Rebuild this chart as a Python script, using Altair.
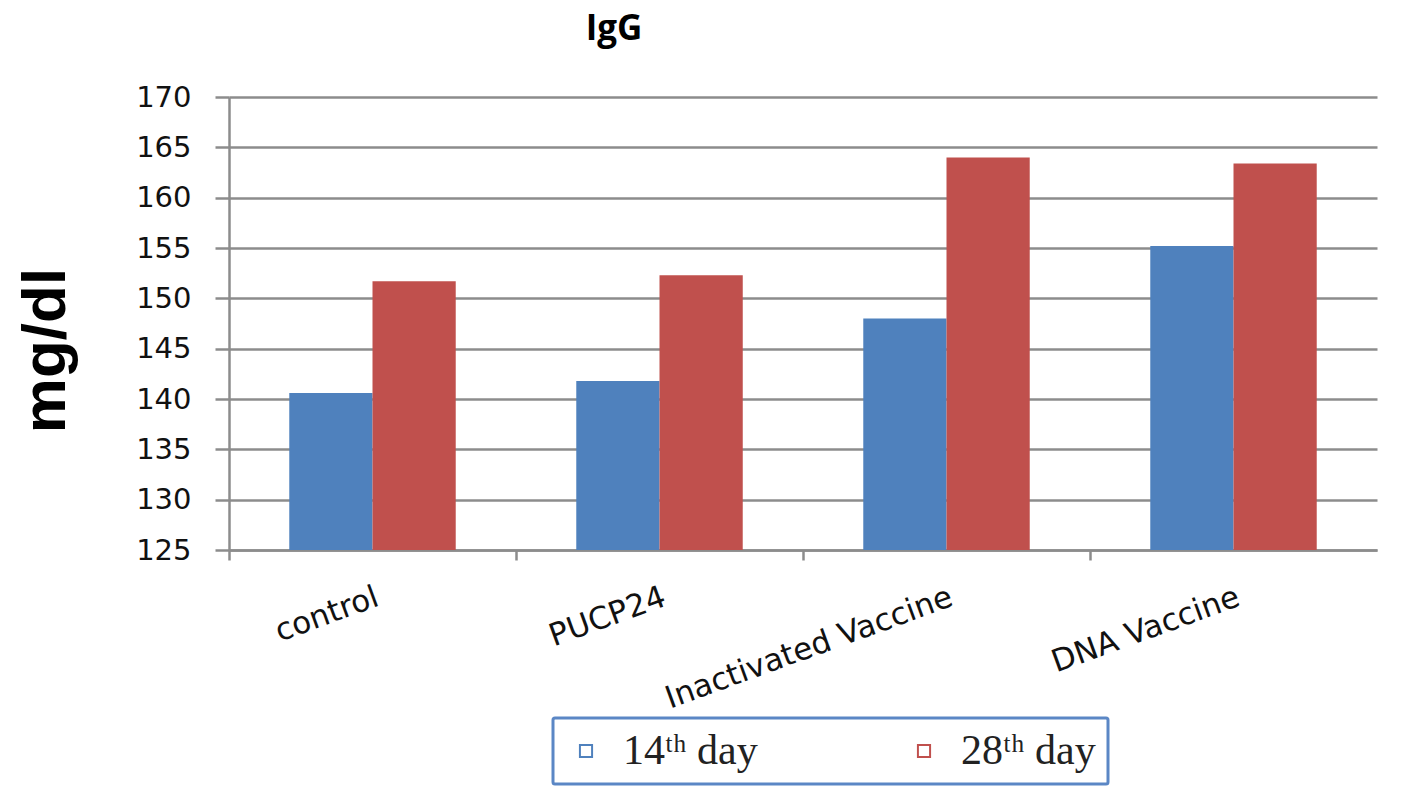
import altair as alt
import pandas as pd

categories = ["control", "PUCP24", "Inactivated Vaccine", "DNA Vaccine"]
series = ["14ᵗʰ day", "28ᵗʰ day"]
day14 = [140.6, 141.8, 148.0, 155.2]
day28 = [151.7, 152.3, 164.0, 163.4]
y_ticks = [125, 130, 135, 140, 145, 150, 155, 160, 165, 170]
colors = ["#4F81BD", "#C0504D"]

rows = []
for c, a, b in zip(categories, day14, day28):
    rows.append({"group": c, "series": series[0], "value": a})
    rows.append({"group": c, "series": series[1], "value": b})
df = pd.DataFrame(rows)

W, H = 1148, 453
grid = "#8c8c8c"
ring = "M-1,-1H1V1H-1Z M-0.72,-0.72V0.72H0.72V-0.72Z"

chart = alt.Chart(df).mark_bar().encode(
    x=alt.X("group:N", sort=categories, title=None,
            scale=alt.Scale(paddingInner=0.42, paddingOuter=0.21),
            axis=alt.Axis(bandPosition=-0.362, labelAngle=-20, labelLimit=500,
                          labelAlign="right", labelBaseline="top", labelPadding=22,
                          labelFont="DejaVu Sans", labelFontSize=31, labelColor="#111",
                          tickSize=10, tickWidth=2.5, tickColor=grid,
                          domainColor=grid, domainWidth=2.5, grid=False)),
    xOffset=alt.XOffset("series:N", sort=series, scale=alt.Scale(paddingInner=0, paddingOuter=0)),
    y=alt.Y("value:Q", title="mg/dl",
            scale=alt.Scale(domain=[125, 170], zero=False, nice=False),
            axis=alt.Axis(values=y_ticks, labelFont="DejaVu Sans", labelFontSize=29,
                          labelColor="#111", labelPadding=24,
                          tickSize=14, tickWidth=2.5, tickColor=grid,
                          domainColor=grid, domainWidth=2.5,
                          grid=True, gridColor=grid, gridWidth=2.5,
                          titleFont="Liberation Sans", titleFontSize=62, titleFontWeight="bold",
                          titleColor="#000", titleX=-184, titleY=253, titleAngle=-90,
                          titleAlign="center", titleBaseline="middle")),
    y2=alt.Y2(datum=125),
    color=alt.Color("series:N", sort=series,
                    scale=alt.Scale(domain=series, range=colors),
                    legend=alt.Legend(title=None, orient="none", legendX=324, legendY=621,
                                      direction="horizontal", symbolType=ring,
                                      symbolSize=200, symbolStrokeWidth=0,
                                      labelFont="Liberation Serif", labelFontSize=42,
                                      labelColor="#222", columnPadding=145,
                                      labelOffset=16, padding=12,
                                      strokeColor="#5B87C5")),
).properties(
    width=W, height=H,
    title=alt.Title("IgG", font="Open Sans", fontSize=35, fontWeight="bold",
                    color="#000", anchor="middle", dx=-189, offset=36),
    autosize=alt.AutoSizeParams(type="none"),
    padding={"left": 221, "top": 89, "right": 33, "bottom": 244},
).configure_view(stroke=None).configure_legend(strokeWidth=3, cornerRadius=2)

chart.save("out.html", embed_options={"renderer": "svg", "actions": False})
